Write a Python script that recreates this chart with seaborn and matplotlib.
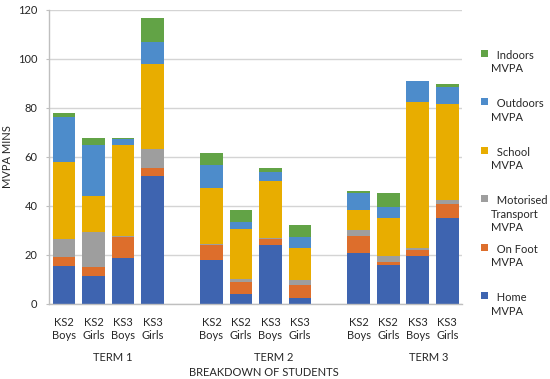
import numpy as np
import pandas as pd
import matplotlib
matplotlib.use("Agg")
import matplotlib.pyplot as plt
import matplotlib.transforms as mtransforms
from matplotlib.patches import Patch
from matplotlib.offsetbox import HPacker
import seaborn as sns

# Data (minutes of MVPA)
terms = ["TERM 1", "TERM 2", "TERM 3"]
groups = ["KS2\nBoys", "KS2\nGirls", "KS3\nBoys", "KS3\nGirls"]

home =      [15.6, 11.3, 18.9, 52.2,   18.1, 4.2, 24.2, 2.6,   20.9, 15.9, 19.7, 35.1]
on_foot =   [3.4, 3.9, 8.4, 3.4,       6.0, 4.9, 2.4, 5.0,     6.7, 1.2, 2.3, 5.7]
motorised = [7.4, 14.3, 0.3, 7.7,      0.5, 1.2, 0.4, 2.2,     2.7, 2.3, 1.0, 1.6]
school =    [31.4, 14.7, 37.1, 34.6,   22.6, 20.1, 23.2, 13.2, 7.9, 15.5, 59.2, 39.1]
outdoors =  [18.6, 20.8, 2.7, 8.8,     9.5, 3.2, 3.7, 4.4,     6.9, 4.7, 8.6, 7.1]
indoors =   [1.6, 2.7, 0.4, 9.8,       5.0, 4.9, 1.7, 4.7,     1.1, 5.5, 0.0, 1.0]

components = ["Home", "On Foot", "Motorised Transport", "School", "Outdoors", "Indoors"]
legend_labels = ["  Home\nMVPA\n", "  On Foot\nMVPA\n", "  Motorised\nTransport\nMVPA",
                 "  School\nMVPA\n", "  Outdoors\nMVPA\n", "  Indoors\nMVPA\n"]
colors = ["#3E64B0", "#DD6E2C", "#9E9E9E", "#E8AD00", "#4D8CCB", "#62A346"]

# build slot order with an empty slot between terms
keys, order, tick_labels = [], [], []
for i, t in enumerate(terms):
    if i > 0:
        order.append(f"gap{i}")
        tick_labels.append("")
    for g in groups:
        k = f"{t} {g}"
        keys.append(k)
        order.append(k)
        tick_labels.append(g)

values = np.array([home, on_foot, motorised, school, outdoors, indoors])
cum = values.cumsum(axis=0)
df = pd.DataFrame({"slot": keys})
for name, c in zip(components, cum):
    df[name] = c

sns.set_style("white")
plt.rcParams["font.family"] = ["Lato", "DejaVu Sans"]
txt = "#262626"

fig = plt.figure(figsize=(5.5, 3.79), dpi=100)
ax = fig.add_axes([0.0896, 0.1979, 0.7504, 0.7765])

# overlay cumulative totals, tallest first
for name, col in reversed(list(zip(components, colors))):
    sns.barplot(data=df, x="slot", y=name, order=order, color=col, saturation=1,
                width=0.77, errorbar=None, linewidth=0, ax=ax)

ax.set_xlim(-0.5, len(order) - 0.5)
ax.set_ylim(0, 120)
ax.set_yticks(np.arange(0, 121, 20))
ax.set_xticks(range(len(order)))
ax.set_xticklabels(tick_labels)
ax.set_xticks(np.arange(-0.5, len(order), 1), minor=True)
ax.tick_params(axis="x", which="major", length=0, pad=9.5, labelsize=8, labelcolor=txt)
ax.tick_params(axis="x", which="minor", length=3, width=0.8, color="#BFBFBF", direction="out")
ax.tick_params(axis="y", length=2.2, width=0.8, color="#BFBFBF", pad=6.2, labelsize=8,
               labelcolor=txt, left=True)
for lab in ax.get_xticklabels():
    lab.set_linespacing(1.15)

ax.set_axisbelow(True)
ax.yaxis.grid(True, color="#D4D4D4", linewidth=1)
for s in ["top", "right"]:
    ax.spines[s].set_visible(False)
for s in ["left", "bottom"]:
    ax.spines[s].set_color("#BFBFBF")
    ax.spines[s].set_linewidth(1)

ax.set_ylabel("MVPA MINS", fontsize=8, color=txt)
ax.yaxis.set_label_coords(-0.087, 0.5)
ax.set_xlabel("BREAKDOWN OF STUDENTS", fontsize=8, color=txt)
ax.xaxis.label.set_va("center")
ax.xaxis.set_label_coords(0.52, -0.232)

trans = mtransforms.blended_transform_factory(ax.transData, ax.transAxes)
for t, xpos in zip(terms, [1.66, 7.12, 12.37]):
    ax.text(xpos, -0.181, t, transform=trans, ha="center", va="center", fontsize=8, color=txt)

handles = [Patch(facecolor=c, edgecolor="none") for c in colors]
leg = fig.legend(handles[::-1], legend_labels[::-1], loc="upper left",
                 bbox_to_anchor=(0.8745, 0.869), frameon=False, fontsize=8,
                 handlelength=0.6, handleheight=0.6, handletextpad=0.33,
                 labelspacing=0.975, borderpad=0, borderaxespad=0)
for t in leg.get_texts():
    t.set_linespacing(1.26)
    t.set_color(txt)
for box in leg.findobj(HPacker):
    box.align = "top"

fig.savefig("out.png", dpi=100)
